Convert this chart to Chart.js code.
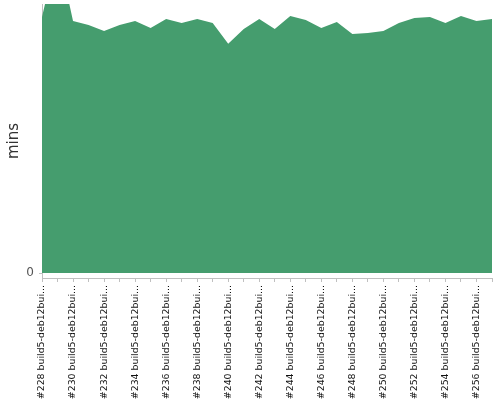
<!DOCTYPE html>
<html>
<head>
<meta charset="utf-8">
<script src="https://cdn.jsdelivr.net/npm/chart.js@4"></script>
<style>
  html, body { margin: 0; padding: 0; background: #fff; }
  #wrap { width: 500px; height: 400px; }
</style>
</head>
<body>
<div id="wrap"><canvas id="myChart"></canvas></div>
<script>
const builds = [228, 229, 230, 231, 232, 233, 234, 235, 236, 237, 238, 239, 240, 241, 242,
  243, 244, 245, 246, 247, 248, 249, 250, 251, 252, 253, 254, 255, 256, 257];
const labels = builds.map(b => "#" + b + " build5-deb12bui...");
const durations = [25.7, 32.4, 25.3, 24.9, 24.3, 24.9, 25.3, 24.6, 25.5, 25.1,
  25.5, 25.1, 23.0, 24.5, 25.5, 24.5, 25.8, 25.4, 24.6, 25.2,
  24.0, 24.1, 24.3, 25.1, 25.6, 25.7, 25.1, 25.8, 25.3, 25.5];
const yMin = -0.5;
const yMax = 27;

const ctx = document.getElementById("myChart");
new Chart(ctx, {
  type: "line",
  data: {
    labels: labels,
    datasets: [{
      label: "mins",
      data: durations,
      fill: "origin",
      backgroundColor: "#459d6e",
      borderColor: "#459d6e",
      borderWidth: 0,
      pointRadius: 0,
      tension: 0,
    }],
  },
  options: {
    responsive: true,
    maintainAspectRatio: false,
    animation: false,
    layout: { padding: { left: 0, right: 8, top: 4, bottom: 0 } },
    plugins: { legend: { display: false }, tooltip: { enabled: false } },
    scales: {
      x: {
        grid: { drawOnChartArea: false, color: "#c0c0c0", tickLength: 4 },
        border: { color: "#c0c0c0" },
        ticks: {
          autoSkip: false,
          maxRotation: 90,
          minRotation: 90,
          padding: 3,
          color: "#111",
          font: { family: "DejaVu Sans", size: 9.4 },
          callback: function (val, i) { return i % 2 === 0 ? this.getLabelForValue(val) : ""; },
        },
        afterFit: function (s) { s.height = 122; s.paddingLeft = 0; s.paddingRight = 0; },
      },
      y: {
        min: yMin,
        max: yMax,
        grid: { drawOnChartArea: false, color: "#c0c0c0", tickLength: 3 },
        border: { color: "#c0c0c0" },
        afterBuildTicks: function (s) { s.ticks = [{ value: 0 }]; },
        ticks: {
          color: "#555",
          padding: 5,
          font: { family: "DejaVu Sans", size: 12 },
          callback: function (v) { return v === 0 ? "0" : ""; },
        },
        title: {
          display: true,
          text: "mins",
          color: "#333",
          padding: { top: 5, bottom: 0 },
          font: { family: "DejaVu Sans", size: 15 },
        },
        afterFit: function (s) { s.width = 42; s.paddingTop = 0; s.paddingBottom = 0; },
      },
    },
  },
});
</script>
</body>
</html>
